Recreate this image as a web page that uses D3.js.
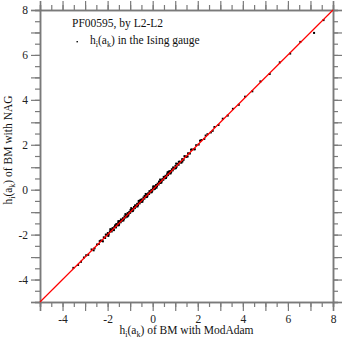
<!DOCTYPE html>
<html>
<head>
<meta charset="utf-8">
<script src="https://cdn.jsdelivr.net/npm/d3@7"></script>
<style>
  body { margin: 0; background: #fff; }
  svg { display: block; font-family: "Liberation Serif", "Times New Roman", serif; }
</style>
</head>
<body>
<svg id="chart" width="343" height="342"></svg>
<script>
// h_i(a_k) values: BM with ModAdam (x) vs BM with NAG (y)
const modAdam = [
  -3.52, -3.31, -3.05, -2.86, -2.71, -2.58, -2.47, -2.39, -2.30, -2.24,
  -2.17, -2.11, -2.05, -1.99, -1.95, -1.90, -1.86, -1.82, -1.78, -1.74,
  -1.70, -1.67, -1.63, -1.60, -1.56, -1.53, -1.49, -1.46, -1.42, -1.39,
  -1.35, -1.32, -1.28, -1.25, -1.21, -1.18, -1.14, -1.11, -1.07, -1.04,
  -1.00, -0.97, -0.93, -0.90, -0.86, -0.83, -0.79, -0.76, -0.72, -0.69,
  -0.65, -0.62, -0.58, -0.55, -0.51, -0.48, -0.44, -0.41, -0.37, -0.34,
  -0.30, -0.27, -0.23, -0.20, -0.16, -0.13, -0.09, -0.06, -0.02, 0.01,
  0.05, 0.08, 0.12, 0.15, 0.19, 0.22, 0.26, 0.29, 0.33, 0.36,
  0.40, 0.43, 0.47, 0.50, 0.54, 0.57, 0.61, 0.64, 0.68, 0.71,
  0.75, 0.78, 0.82, 0.85, 0.89, 0.93, 0.97, 1.01, 1.06, 1.10,
  1.15, 1.20, 1.25, 1.31, 1.37, 1.43, 1.50, 1.57, 1.65, 1.74,
  1.83, 1.93, 2.04, 2.16, 2.29, 2.43, 2.58, 2.74, 2.92, 3.11,
  3.33, 3.56, 3.82, 4.10, 4.42, 4.78, 5.19, 5.64, 6.10, 6.55,
  7.16, 7.58,
  -1.88, -1.52, -1.21, -0.95, -0.62, -0.31, 0.02, 0.33, 0.66, 1.04,
  -2.62, -2.35, -2.21, -2.08, -1.97, -1.84, -1.72, -1.61, -1.50, -1.41,
  -1.30, -1.19, -1.09, -0.98, -0.88, -0.78, -0.67, -0.57, -0.46, -0.36,
  -0.25, -0.14, -0.04, 0.07, 0.17, 0.28, 0.38, 0.49, 0.59, 0.70,
  0.80, 0.91, 1.03, 1.16, 1.28, 1.41, 1.55, 1.70, 1.87, 2.10,
  -3.18, -2.95, -1.66, -1.13, -0.53, 0.10, 0.72, 1.32, 2.35, 2.66
];
const nag = [
  -3.48, -3.35, -3.02, -2.90, -2.66, -2.61, -2.44, -2.42, -2.26, -2.28,
  -2.12, -2.15, -2.01, -1.93, -1.99, -1.86, -1.82, -1.86, -1.71, -1.77,
  -1.66, -1.62, -1.68, -1.55, -1.59, -1.47, -1.52, -1.40, -1.45, -1.34,
  -1.38, -1.27, -1.31, -1.19, -1.24, -1.13, -1.18, -1.04, -1.10, -0.99,
  -1.03, -0.91, -0.96, -0.86, -0.89, -0.77, -0.82, -0.71, -0.75, -0.63,
  -0.68, -0.58, -0.61, -0.49, -0.54, -0.43, -0.47, -0.35, -0.40, -0.29,
  -0.33, -0.21, -0.26, -0.16, -0.19, -0.08, -0.12, -0.01, -0.05, 0.06,
  0.02, 0.12, 0.09, 0.21, 0.16, 0.27, 0.23, 0.34, 0.30, 0.41,
  0.37, 0.47, 0.44, 0.56, 0.51, 0.62, 0.58, 0.69, 0.65, 0.77,
  0.72, 0.83, 0.79, 0.91, 0.86, 0.97, 0.94, 1.06, 1.02, 1.15,
  1.11, 1.25, 1.21, 1.36, 1.33, 1.48, 1.46, 1.62, 1.61, 1.79,
  1.80, 1.98, 2.01, 2.21, 2.26, 2.47, 2.55, 2.79, 2.88, 3.16,
  3.30, 3.60, 3.78, 4.14, 4.38, 4.82, 5.15, 5.67, 6.06, 6.58,
  6.98, 7.55,
  -1.76, -1.40, -1.09, -0.82, -0.50, -0.19, 0.14, 0.45, 0.77, 1.16,
  -2.70, -2.29, -2.30, -2.00, -2.06, -1.77, -1.80, -1.53, -1.58, -1.33,
  -1.37, -1.11, -1.16, -0.90, -0.95, -0.70, -0.74, -0.49, -0.54, -0.28,
  -0.32, -0.07, -0.11, 0.15, 0.09, 0.36, 0.31, 0.57, 0.52, 0.78,
  0.73, 0.99, 0.96, 1.24, 1.21, 1.49, 1.48, 1.78, 1.80, 2.18,
  -3.21, -2.92, -1.58, -1.20, -0.45, 0.04, 0.81, 1.26, 2.41, 2.62
];

const domain = [-5, 8];
const minorTicks = d3.range(-5, 8.01, 0.5);
const majorTicks = d3.range(-5, 8.01, 1);

const margin = { left: 40, top: 10 };
const plotW = 293, plotH = 292;

const svg = d3.select('#chart');
const x = d3.scaleLinear().domain(domain).range([margin.left, margin.left + plotW]);
const y = d3.scaleLinear().domain(domain).range([margin.top + plotH, margin.top]);

const axisColor = '#7a7a7a';
const fontSize = 11.5;
const labelFmt = d => (d % 2 === 0 ? String(d) : '');

function drawAxis(make, scale, transform, withLabels) {
    const gMinor = svg.append('g').attr('transform', transform)
        .call(make(scale).tickValues(minorTicks).tickSize(5).tickFormat(''));
    const gMajor = svg.append('g').attr('transform', transform)
        .call(make(scale).tickValues(majorTicks).tickSize(9)
            .tickFormat(withLabels ? labelFmt : ''));
    [gMinor, gMajor].forEach(g => {
        g.select('.domain').attr('stroke', axisColor).attr('stroke-width', 1.5);
        g.selectAll('.tick line').attr('stroke', axisColor).attr('stroke-width', 1.2);
        g.selectAll('text').attr('fill', '#222').attr('font-size', fontSize)
            .attr('font-family', '"Liberation Serif", serif');
    });
    return gMajor;
}

const bottom = drawAxis(d3.axisBottom, x, `translate(0,${margin.top + plotH})`, true);
bottom.selectAll('text').attr('dy', '0.71em').attr('y', 13);
drawAxis(d3.axisTop, x, `translate(0,${margin.top})`, false);
const left = drawAxis(d3.axisLeft, y, `translate(${margin.left},0)`, true);
left.selectAll('text').attr('x', -12);
drawAxis(d3.axisRight, y, `translate(${margin.left + plotW},0)`, false);

// points
svg.append('g').selectAll('rect')
    .data(modAdam.map((v, i) => [v, nag[i]]))
    .join('rect')
    .attr('x', d => x(d[0]) - 1)
    .attr('y', d => y(d[1]) - 1)
    .attr('width', 2)
    .attr('height', 2)
    .attr('fill', '#000');

// diagonal y = x
svg.append('line')
    .attr('x1', x(-5)).attr('y1', y(-5))
    .attr('x2', x(8)).attr('y2', y(8))
    .attr('stroke', '#ff0000').attr('stroke-width', 1.2);

// legend
svg.append('text').attr('x', 72).attr('y', 27).attr('font-size', fontSize).attr('fill', '#111')
    .text('PF00595, by L2-L2');
svg.append('rect').attr('x', 76.5).attr('y', 41).attr('width', 1.4).attr('height', 1.4).attr('fill', '#000');
const leg = svg.append('text').attr('x', 90).attr('y', 44).attr('font-size', fontSize).attr('fill', '#111');
function hiak(t) {
    t.append('tspan').text('h');
    t.append('tspan').attr('font-size', 8).attr('dy', 2.5).text('i');
    t.append('tspan').attr('dy', -2.5).text('(a');
    t.append('tspan').attr('font-size', 8).attr('dy', 2.5).text('k');
    t.append('tspan').attr('dy', -2.5).text(')');
}
hiak(leg);
leg.append('tspan').text(' in the Ising gauge');

// axis titles
const xt = svg.append('text').attr('x', margin.left + plotW / 2).attr('y', 334)
    .attr('text-anchor', 'middle').attr('font-size', fontSize).attr('fill', '#111');
hiak(xt);
xt.append('tspan').text(' of BM with ModAdam');

const yt = svg.append('text')
    .attr('transform', `translate(12,${margin.top + plotH / 2 - 6}) rotate(-90)`)
    .attr('text-anchor', 'middle').attr('font-size', fontSize).attr('fill', '#111');
hiak(yt);
yt.append('tspan').text(' of BM with NAG');
</script>
</body>
</html>
